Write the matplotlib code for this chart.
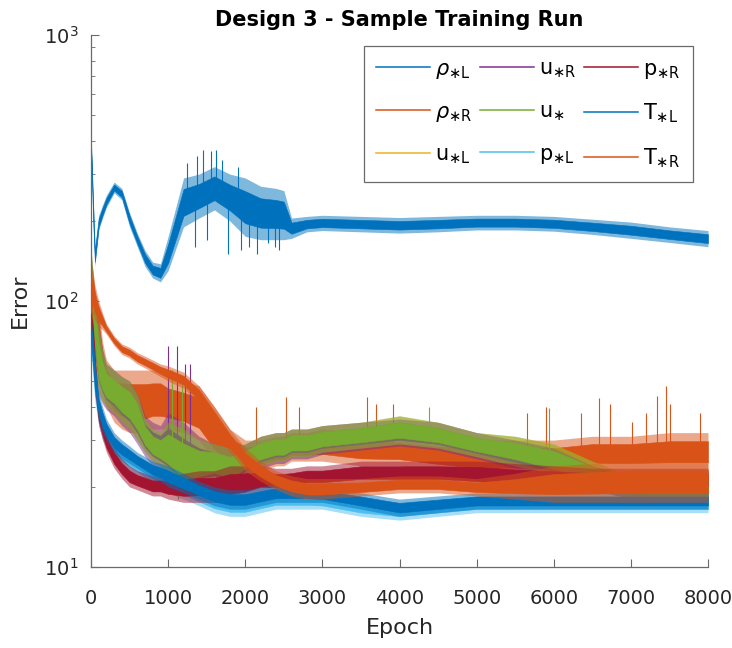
import numpy as np
import matplotlib
matplotlib.use("Agg")
import matplotlib.pyplot as plt
from matplotlib.lines import Line2D

# ---------------- data ----------------
epochs = [0, 25, 50, 100, 150, 200, 300, 400, 500, 600, 700, 800, 900, 1000,
          1200, 1400, 1600, 1800, 2000, 2200, 2400, 2500, 2600, 2800, 3000,
          3500, 4000, 4500, 5000, 5500, 6000, 6500, 7000, 7500, 8000]

labels = [r'$\rho_{\ast\mathsf{L}}$', r'$\rho_{\ast\mathsf{R}}$', r'u$_{\ast\mathsf{L}}$',
          r'u$_{\ast\mathsf{R}}$', r'u$_{\ast}$', r'p$_{\ast\mathsf{L}}$',
          r'p$_{\ast\mathsf{R}}$', r'T$_{\ast\mathsf{L}}$', r'T$_{\ast\mathsf{R}}$']

# lower / upper envelope of each noisy error curve
rhoL_lo = [380, 200, 135, 185, 205, 225, 255, 240, 190, 160, 135, 122, 118, 130, 190, 205, 220, 200, 175, 170, 170, 170, 172, 182, 184, 182, 180, 182, 185, 185, 183, 178, 172, 166, 160]
rhoL_hi = [410, 260, 160, 210, 230, 250, 280, 265, 215, 180, 155, 140, 138, 175, 290, 300, 320, 300, 290, 270, 265, 260, 205, 208, 210, 208, 206, 208, 210, 210, 208, 203, 198, 190, 184]

rhoR_lo = [70, 60, 60, 55, 45, 40, 35, 33, 32, 32, 32, 33, 33, 33, 32, 30, 25, 23, 23, 23, 24, 24, 25, 25, 25, 24, 24, 23, 22, 22, 22, 23, 23, 23, 23]
rhoR_hi = [130, 110, 100, 95, 70, 60, 55, 55, 55, 55, 55, 55, 55, 52, 50, 48, 40, 33, 30, 30, 31, 31, 32, 32, 33, 32, 31, 30, 30, 30, 30, 31, 31, 32, 32]

uL_lo = [90, 70, 60, 45, 42, 40, 38, 35, 33, 30, 27, 25, 24, 22, 19, 20, 21, 20, 22, 24, 25, 25, 26, 26, 27, 28, 29, 28, 26, 24, 22, 20, 18, 17.5, 17]
uL_hi = [150, 125, 105, 78, 64, 57, 54, 51, 49, 44, 36, 34, 33, 36, 34, 31, 29, 28, 29, 31, 32, 32, 33, 33, 34, 35, 37, 35, 32, 31, 29, 25, 22, 21, 20.5]

uR_lo = [88, 68, 58, 44, 41, 39, 37, 34, 32, 29, 26, 24, 23, 21, 18.5, 19.5, 20.5, 19.5, 21.5, 23.5, 24.5, 24.5, 25.5, 25.5, 26.5, 27.5, 28.5, 27.5, 25.5, 23.5, 21.5, 19.5, 18, 17.5, 17]
uR_hi = [155, 128, 108, 80, 66, 58, 55, 52, 50, 45, 37, 35, 34, 38, 35, 31, 29, 28, 29, 31, 32, 32, 33, 33, 34, 35, 36, 35, 32, 30, 28, 24, 22, 21, 20.5]

ustar_lo = [90, 70, 60, 45, 42, 40, 38, 35, 33, 30, 27, 25, 24, 22, 19, 20, 21, 20, 22, 24, 25, 25, 26, 26, 27, 28, 29, 28, 26, 24, 22, 20, 18, 17.5, 17]
ustar_hi = [160, 130, 110, 80, 65, 58, 55, 52, 50, 45, 36, 33, 32, 35, 33, 30, 29, 28, 29, 31, 32, 32, 33, 33, 34, 35, 37, 35, 32, 31, 29, 25, 22, 21, 20.5]

pL_lo = [66, 52, 42, 34, 30, 28.5, 25.5, 24, 23, 22, 21, 20.5, 20, 19, 18, 17, 16, 15.5, 15.5, 16, 16.5, 16.5, 16.5, 16.5, 16.5, 15.5, 15, 15.5, 16, 16, 16, 16, 16, 16, 16]
pL_hi = [82, 72, 57, 43, 38, 34, 30.5, 29, 27.5, 26, 25, 24, 23.5, 23, 21.5, 20, 19, 18.5, 18.5, 19, 19.5, 19.5, 19.5, 19.5, 19, 18, 17.5, 18, 18.5, 18.5, 18.5, 18.5, 18.5, 18.5, 18.5]

pR_lo = [75, 60, 45, 34, 30, 27, 23.5, 21.5, 20, 19.5, 19, 18.5, 18.5, 18, 17.5, 17.5, 17.5, 17.5, 18, 19, 19, 19, 19.5, 20, 20, 20.5, 20.5, 20.5, 20, 19.5, 19.5, 19.5, 19.5, 19.5, 19.5]
pR_hi = [95, 85, 65, 42, 36, 32, 28, 25.5, 24, 23, 22.5, 22, 22, 22, 22.5, 23, 23, 24, 24, 24, 23.5, 23.5, 23.5, 24, 24, 25, 25, 25, 25, 24.5, 24, 23.5, 23.5, 23.5, 23.5]

TL_lo = [70, 55, 45, 36, 32, 30, 27, 25.5, 24.5, 23.5, 22.5, 21.5, 21, 20, 19, 18, 17, 16.5, 16.5, 17, 17.5, 17.5, 17.5, 17.5, 17.5, 16.5, 15.5, 16, 16.5, 16.5, 16.5, 16.5, 16.5, 16.5, 16.5]
TL_hi = [85, 75, 60, 45, 40, 36, 32, 30, 28.5, 27, 26, 25, 24.5, 24, 22.5, 21, 20, 19.5, 19.5, 20, 20.5, 20.5, 20.5, 20.5, 20, 19, 18, 18.5, 19, 19, 19, 19, 19, 19, 19]

TR_lo = [80, 90, 85, 80, 78, 75, 68, 63, 61, 58, 56, 54, 52, 50, 47, 41, 33, 27, 23, 21, 19.5, 19, 18.5, 18, 18, 18.5, 19, 19, 18.5, 18, 17.5, 17.5, 17.5, 17.5, 17.5]
TR_hi = [140, 130, 115, 100, 90, 82, 74, 69, 67, 64, 62, 60, 58, 57, 54, 48, 40, 33, 28, 25, 23, 22.5, 22, 21.5, 21.5, 21.5, 22, 22, 21.5, 22.5, 24, 24.5, 25, 25, 25]

# isolated spikes (epoch, value)
rhoL_spike_x = [1250, 1380, 1450, 1560, 1620, 1700, 1900, 1350, 1500, 1780, 1950, 2050, 2150, 2300, 2380, 2440]
rhoL_spike_v = [330, 350, 370, 365, 370, 340, 320, 160, 170, 150, 155, 160, 150, 165, 160, 155]
rhoR_spike_x = [2140, 2530, 2700, 3580, 3700, 3920, 5650, 5900, 6350, 6590, 6730, 7010, 7200, 7340, 7450, 7510, 7900]
rhoR_spike_v = [40, 43.5, 40, 43.5, 41, 41, 38, 40, 38, 43, 41, 35, 38, 44, 48, 41, 38]
uR_spike_x = [1000, 1115, 1220, 1290]
uR_spike_v = [68, 68, 58, 58]
ustar_spike_x = [1050, 1130, 1180, 1250, 4380, 5940]
ustar_spike_v = [55, 18, 50, 18.5, 40, 39.5]

colors = ['#0072BD', '#D95319', '#EDB120', '#7E2F8E', '#77AC30',
          '#4DBEEE', '#A2142F', '#0072BD', '#D95319']

# ---------------- figure ----------------
plt.rcParams['font.family'] = ['DejaVu Sans']
plt.rcParams['mathtext.fontset'] = 'dejavusans'

fig = plt.figure(figsize=(7.32, 6.48), dpi=100)
ax = fig.add_axes([91 / 732, 1 - 567 / 648, 617 / 732, 532 / 648])

E = np.array(epochs, dtype=float)
series = [(rhoL_lo, rhoL_hi), (rhoR_lo, rhoR_hi), (uL_lo, uL_hi), (uR_lo, uR_hi),
          (ustar_lo, ustar_hi), (pL_lo, pL_hi), (pR_lo, pR_hi), (TL_lo, TL_hi),
          (TR_lo, TR_hi)]
spikes = {0: (rhoL_spike_x, rhoL_spike_v), 1: (rhoR_spike_x, rhoR_spike_v),
          3: (uR_spike_x, uR_spike_v), 4: (ustar_spike_x, ustar_spike_v)}

handles = []
for i, ((lo, hi), c) in enumerate(zip(series, colors)):
    lo = np.array(lo, float)
    hi = np.array(hi, float)
    z = 2 + i * 0.1
    # fuzzy outer envelope + dense core (noise look)
    ax.fill_between(E, lo, hi, color=c, lw=0, alpha=0.5, zorder=z)
    mid = np.sqrt(lo * hi)
    core_lo = mid * (lo / mid) ** 0.55
    core_hi = mid * (hi / mid) ** 0.55
    ax.fill_between(E, core_lo, core_hi, color=c, lw=0.4, edgecolor=c, zorder=z)
    if i in spikes:
        sx, sv = spikes[i]
        base = np.interp(sx, E, mid)
        ax.vlines(sx, base, sv, color=c, lw=0.8, zorder=z)
    handles.append(Line2D([], [], color=c, lw=1.1))

ax.set_yscale('log')
ax.set_xlim(0, 8000)
ax.set_ylim(10, 1000)
ax.set_xticks(range(0, 8001, 1000))

spcol = '#6a6a6a'
txtcol = '#262626'
for s in ['top', 'right']:
    ax.spines[s].set_visible(False)
for s in ['left', 'bottom']:
    ax.spines[s].set_color(spcol)
    ax.spines[s].set_linewidth(0.9)
ax.tick_params(which='both', direction='in', color=spcol, labelcolor=txtcol, labelsize=14)
ax.tick_params(which='major', length=6)
ax.tick_params(which='minor', length=3)
ax.tick_params(axis='x', pad=16)
ax.tick_params(axis='y', pad=9)

ax.set_xlabel('Epoch', fontsize=16, color=txtcol, labelpad=7)
ax.set_ylabel('Error', fontsize=16, color=txtcol, labelpad=10)
ax.set_title('Design 3 - Sample Training Run', fontsize=15, fontweight='bold', pad=6.5)

leg = ax.legend(handles, labels, ncol=3, loc='upper right',
                bbox_to_anchor=(0.976, 0.979), borderaxespad=0, fontsize=15,
                frameon=True, fancybox=False, edgecolor=spcol, framealpha=1,
                handlelength=2.6, handletextpad=0.25, columnspacing=0.35,
                labelspacing=1.0, borderpad=0.6)
leg.get_frame().set_linewidth(0.9)

fig.savefig('out.png', dpi=100)
